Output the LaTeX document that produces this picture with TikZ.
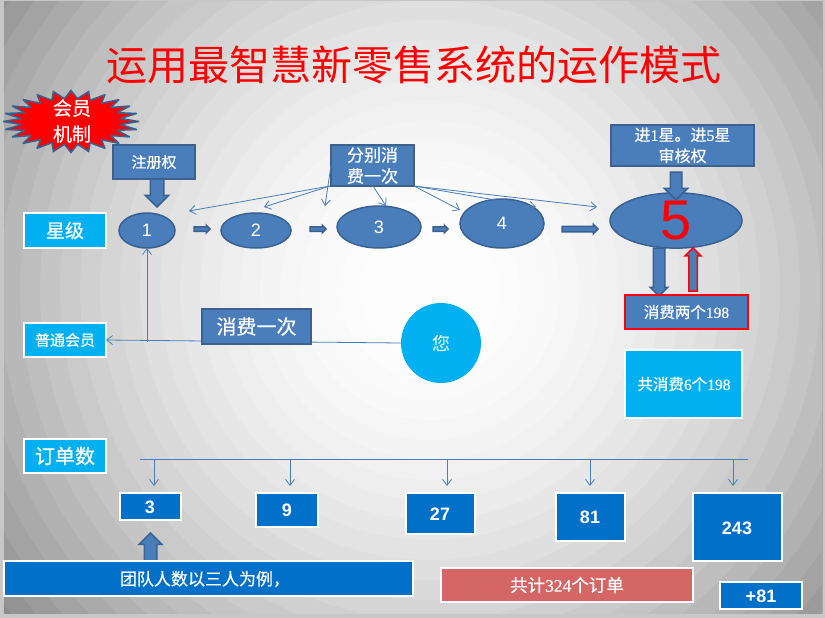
\documentclass[tikz,border=0pt]{standalone}
\usepackage{fontspec}
\setmainfont[FakeBold=0.5]{Noto Sans CJK SC}
\newfontfamily\plainf{Noto Sans CJK SC}
\newfontfamily\dg[FakeBold=0.5]{Liberation Serif}
\newfontfamily\hv{Liberation Sans}
\usetikzlibrary{shapes.geometric,shapes.arrows,arrows.meta}
\definecolor{steel}{HTML}{4A7EBB}
\definecolor{steeldk}{HTML}{3A6190}
\definecolor{cyanb}{HTML}{00B0F0}
\definecolor{deepb}{HTML}{0070C8}
\definecolor{rosy}{HTML}{D46666}
\tikzset{
 x=1pt,y=-1pt,
 every node/.style={inner sep=0pt,outer sep=0pt,align=center,text=white},
 bluebox/.style={draw=steeldk,fill=steel,line width=1.5pt},
 redbox/.style={draw=red,fill=steel,line width=2pt},
 cyanbox/.style={draw=white,fill=cyanb,line width=2pt},
 deepbox/.style={draw=white,fill=deepb,line width=1.5pt},
 star/.style={draw=steeldk,fill=steel,ellipse,line width=1.5pt},
 thin/.style={draw=steel,line width=0.8pt,-{Straight Barb[length=6pt,width=9pt]}},
 blk/.style={single arrow,draw=steeldk,fill=steel,line width=1.5pt,inner ysep=#1/2,inner xsep=0pt,single arrow head indent=0pt,anchor=tip},
 num/.style={font=\hv\bfseries\fontsize{18}{20}\selectfont},
}
\newcommand{\bx}[7][]{\node[#2,minimum width=#5-#3,minimum height=#6-#4,anchor=north west,#1] (#7) at (#3,#4)}
\begin{document}
\begin{tikzpicture}
\useasboundingbox (0,0) rectangle (825,618);
\fill[black!22] (0,0) rectangle (825,618);
\begin{scope}
\clip (4,2) rectangle (822,613);
\fill[white!58!black] (0,0) rectangle (825,618);
\foreach \r in {570,550,...,60}{
  \pgfmathsetmacro\lv{min(100,100-(\r/535)*(\r/535)*43)}
  \fill[white!\lv!black] (430,290) circle[radius=\r];
}
\end{scope}
% title
\node[text=red,font=\plainf\fontsize{41}{44}\selectfont] (title) at (414,65) {运用最智慧新零售系统的运作模式};
% burst
\draw[draw=steeldk,fill=red,line width=1.5pt,miter limit=2] plot[samples=49,domain=0:360] ({71+ifthenelse(mod(round(\x/7.5),2)==0,68,50)*cos(\x)},{121.5+ifthenelse(mod(round(\x/7.5),2)==0,31,23)*sin(\x)}) -- cycle;
\node[font=\fontsize{19}{26}\selectfont] (burst) at (72,121) {会员\\机制};
% boxes top
\bx{bluebox}{113}{145}{195}{179}{zc} {};
\node[font=\fontsize{15}{18}\selectfont] at (zc) {注册权};
\bx{bluebox}{331}{145}{414}{186}{fb} {};
\node[font=\fontsize{17}{21}\selectfont] at (fb) {分别消\\费一次};
\bx{bluebox}{611}{125}{754}{166}{jx} {};
\node[font=\fontsize{16}{21}\selectfont] at (jx) {进{\dg 1}星。进{\dg 5}星\\审核权};
\bx{cyanbox}{24}{213}{106}{248}{xj} {};
\node[font=\fontsize{19}{22}\selectfont] at (xj) {星级};
% ellipses
\node[star,minimum width=56,minimum height=35,font=\hv\fontsize{18}{20}\selectfont] (e1) at (147,230.5) {1};
\node[star,minimum width=70,minimum height=35,font=\hv\fontsize{18}{20}\selectfont] (e2) at (256,230.5) {2};
\node[star,minimum width=84,minimum height=42,font=\hv\fontsize{18}{20}\selectfont] (e3) at (379,227) {3};
\node[star,minimum width=84,minimum height=49,font=\hv\fontsize{18}{20}\selectfont] (e4) at (502,223.5) {4};
\node[star,minimum width=132,minimum height=55,text=red,font=\hv\fontsize{56}{58}\selectfont] (e5) at (676,220.5) {5};
% block arrows
\node[blk=12,minimum height=28,single arrow head extend=5,rotate=-90] (a1) at (157,207) {};
\node[blk=3,minimum height=16,single arrow head extend=1.5] (s1) at (210,229) {};
\node[blk=3,minimum height=16,single arrow head extend=1.5] (s2) at (326,229) {};
\node[blk=3,minimum height=15,single arrow head extend=1.5] (s3) at (448,229) {};
\node[blk=4,minimum height=36,single arrow head extend=2] (s4) at (598,229) {};
\node[blk=10,minimum height=28,single arrow head extend=6,rotate=-90] (a5) at (676,200) {};
\node[blk=10,minimum height=48,single arrow head extend=3,rotate=-90] (a6) at (659,296) {};
\node[blk=7,minimum height=43,single arrow head extend=3.5,rotate=90,draw=red] (a7) at (693,248) {};
\node[blk=11,minimum height=28,single arrow head extend=5,rotate=90] (a8) at (150.5,533) {};
% lower boxes
\bx{redbox}{625}{295}{748}{329}{xf} {};
\node[font=\fontsize{15.5}{18}\selectfont] at (xf) {消费两个{\dg 198}};
\bx{cyanbox}{625}{350}{742}{418}{gx} {};
\node[font=\fontsize{15.5}{18}\selectfont] at (684,384) {共消费{\dg 6}个{\dg 198}};
\node[circle,fill=cyanb,minimum size=80,font=\plainf\fontsize{18}{20}\selectfont] (you) at (441,343) {您};
\bx{cyanbox}{24}{323}{106}{357}{pt} {};
\node[font=\fontsize{15}{18}\selectfont] at (pt) {普通会员};
\draw[thin] (you.west) -- (pt.east);
\bx{bluebox}{202}{309}{311}{344}{xc} {};
\node[font=\fontsize{20}{22}\selectfont] at (xc) {消费一次};
\bx{cyanbox}{24}{439}{106}{473}{dd} {};
\node[font=\fontsize{20}{22}\selectfont] at (dd) {订单数};
\bx{deepbox}{120}{493}{181}{520}{n3} {};
\node[num] at (150,507) {3};
\bx{deepbox}{256}{493}{318}{527}{n9} {};
\node[num] at (287,510) {9};
\bx{deepbox}{406}{493}{475}{534}{n27} {};
\node[num] at (440,514) {27};
\bx{deepbox}{556}{493}{625}{541}{n81} {};
\node[num] at (590,517) {81};
\bx{deepbox}{693}{493}{782}{561}{n243} {};
\node[num] at (737,528) {243};
\bx{deepbox}{720}{582}{802}{609}{p81} {};
\node[num] at (761,596) {+81};
\bx[fill=rosy]{deepbox}{441}{568}{693}{602}{tot} {};
\node[font=\fontsize{17.5}{20}\selectfont] at (567,585) {共计{\dg 324}个订单};
\bx{deepbox}{4}{561}{413}{596}{td} {};
\node[font=\fontsize{17}{20}\selectfont] at (205,579) {团队人数以三人为例，};
% thin connectors
\coordinate (t1) at (189,211);
\coordinate (t2) at (264,207);
\coordinate (t3) at (325,206);
\coordinate (t4) at (386,206);
\coordinate (t5) at (460,210);
\coordinate (t6) at (536,207);
\coordinate (t7) at (597,207);
\draw[thin] (330,186) -- (t1);
\draw[thin] (330,186) -- (t2);
\draw[thin] (fb.west) -- (t3);
\draw[thin] (373,186) -- (t4);
\draw[thin] (fb.south east) -- (t5);
\draw[thin] (fb.south east) -- (t6);
\draw[thin] (fb.south east) -- (t7);
\coordinate (j) at (147,342);
\draw[thin] (j) -- (e1.south);
\coordinate (hl) at (140,459.5);
\coordinate (hr) at (748,459.5);
\draw[draw=steel,line width=0.8pt] (hl) -- (hr);
\foreach \x/\n in {154/a,290/b,447/c,590/d,733/e}{
  \coordinate (h\n) at (\x,459.5);
  \coordinate (f\n) at (\x,486);
  \draw[thin] (h\n) -- (f\n);
}
\end{tikzpicture}
\end{document}
